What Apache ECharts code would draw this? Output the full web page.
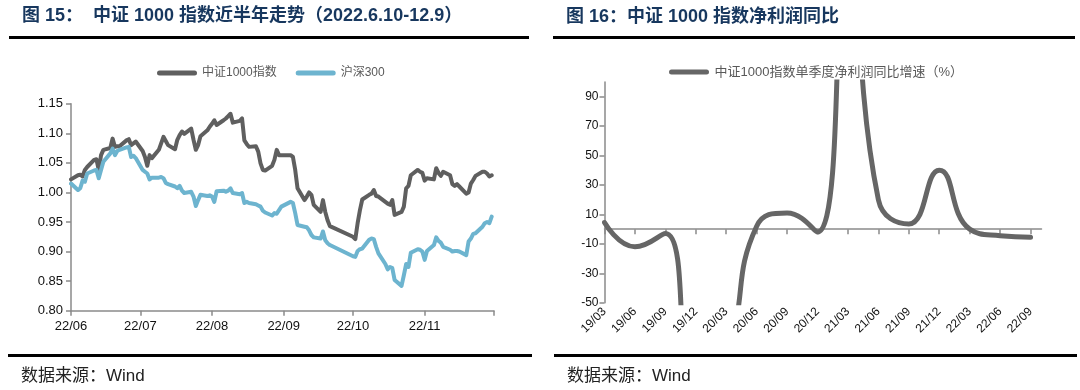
<!DOCTYPE html>
<html>
<head>
<meta charset="utf-8">
<script src="https://cdn.jsdelivr.net/npm/echarts@6.0.0/dist/echarts.min.js"></script>
<style>
html,body{margin:0;padding:0;background:#ffffff;}
#chart{width:1080px;height:390px;}
</style>
</head>
<body>
<div id="chart"></div>
<script>
// ---------- Figure 15: CSI 1000 vs CSI 300 (normalised), 2022-06-10 .. 2022-12-09 ----------
const tradeDates = [
'06-10','06-13','06-14','06-15','06-16','06-17','06-20','06-21','06-22','06-23','06-24','06-27','06-28','06-29','06-30',
'07-01','07-04','07-05','07-06','07-07','07-08','07-11','07-12','07-13','07-14','07-15','07-18','07-19','07-20','07-21','07-22','07-25','07-26','07-27','07-28','07-29',
'08-01','08-02','08-03','08-04','08-05','08-08','08-09','08-10','08-11','08-12','08-15','08-16','08-17','08-18','08-19','08-22','08-23','08-24','08-25','08-26','08-29','08-30','08-31',
'09-01','09-02','09-05','09-06','09-07','09-08','09-09','09-13','09-14','09-15','09-16','09-19','09-20','09-21','09-22','09-23','09-26','09-27','09-28','09-29','09-30',
'10-10','10-11','10-12','10-13','10-14','10-17','10-18','10-19','10-20','10-21','10-24','10-25','10-26','10-27','10-28','10-31',
'11-01','11-02','11-03','11-04','11-07','11-08','11-09','11-10','11-11','11-14','11-15','11-16','11-17','11-18','11-21','11-22','11-23','11-24','11-25','11-28','11-29','11-30',
'12-01','12-02','12-05','12-06','12-07','12-08','12-09'
];
const csi1000 = [
1.022,1.029,1.030,1.027,1.038,1.043,1.055,1.056,1.038,1.063,1.072,1.075,1.091,1.077,1.078,
1.078,1.088,1.090,1.080,1.083,1.086,1.070,1.060,1.045,1.063,1.058,1.072,1.083,1.094,1.087,1.080,1.073,1.089,1.097,1.103,1.099,
1.108,1.089,1.072,1.080,1.095,1.105,1.111,1.116,1.122,1.114,1.122,1.125,1.129,1.133,1.118,1.121,1.125,1.088,1.082,1.077,1.078,1.069,1.049,
1.038,1.037,1.045,1.055,1.072,1.063,1.063,1.063,1.060,1.038,1.007,0.987,0.993,1.000,0.996,0.979,0.967,0.987,0.967,0.953,0.943,
0.925,0.921,0.948,0.970,0.988,0.996,0.998,1.004,0.994,0.993,0.984,0.981,0.979,0.987,0.962,0.967,
0.976,1.007,1.011,1.029,1.038,1.035,1.033,1.020,1.024,1.022,1.041,1.033,1.028,1.035,1.029,1.014,1.011,1.014,1.010,0.998,1.000,1.015,
1.021,1.028,1.035,1.035,1.032,1.027,1.029
];
const hs300 = [
1.015,1.004,1.007,1.020,1.018,1.032,1.037,1.038,1.024,1.038,1.052,1.066,1.074,1.063,1.070,
1.072,1.076,1.077,1.060,1.062,1.058,1.038,1.035,1.032,1.022,1.025,1.025,1.026,1.024,1.016,1.014,1.010,1.007,1.011,1.003,0.999,
1.001,0.993,0.977,0.987,0.996,0.994,0.995,0.993,0.984,1.002,1.003,1.001,1.003,1.007,0.999,0.997,0.999,0.982,0.984,0.982,0.980,0.978,0.976,
0.969,0.966,0.961,0.965,0.964,0.970,0.976,0.984,0.982,0.965,0.945,0.942,0.941,0.936,0.928,0.924,0.922,0.934,0.919,0.914,0.911,
0.892,0.891,0.901,0.904,0.905,0.920,0.922,0.921,0.908,0.897,0.879,0.870,0.874,0.872,0.852,0.842,
0.860,0.879,0.874,0.898,0.904,0.903,0.900,0.886,0.901,0.911,0.924,0.918,0.915,0.908,0.903,0.900,0.901,0.901,0.900,0.894,0.917,0.922,
0.930,0.931,0.942,0.948,0.950,0.948,0.959
];
const monthTickLabels = ['22/06','22/07','22/08','22/09','22/10','22/11'];
const leftYTicks = [0.80,0.85,0.90,0.95,1.00,1.05,1.10,1.15];

// ---------- Figure 16: CSI 1000 quarterly net profit YoY (%) ----------
const quarters = ['19/03','19/06','19/09','19/12','20/03','20/06','20/09','20/12','21/03','21/06','21/09','21/12','22/03','22/06','22/09'];
const profitYoY = [4.5,-12,-3,-110,-85,2,11,-2,205,20,3.5,40,0,-4.5,-5.5];
const rightYTicks = [-50,-30,-10,10,30,50,70,90];

const FONT = '"Liberation Sans", Arial, "Noto Sans CJK SC", sans-serif';
const AXIS_COLOR = '#8a8a8a';
const LEGEND_ICON = 'path://M2.5,0 H37.5 A2.5,2.5 0 0 1 37.5,5 H2.5 A2.5,2.5 0 0 1 2.5,0 Z';

// calendar-day category axis (date axis like the original)
const calendarDays = [];
for (let t = Date.UTC(2022,5,10); t <= Date.UTC(2022,11,10); t += 86400000) {
  const d = new Date(t);
  calendarDays.push(String(d.getUTCMonth()+1).padStart(2,'0') + '-' + String(d.getUTCDate()).padStart(2,'0'));
}
const pos = {};
tradeDates.forEach((d,i) => { pos[d] = i; });
const onCalendar = arr => calendarDays.map(d => (d in pos ? arr[pos[d]] : null));
const isTenth = (i, v) => String(v).slice(3) === '10';
const quarterIdx = quarters.map((q,i) => i);

const chart = echarts.init(document.getElementById('chart'), null, {renderer:'canvas'});
chart.setOption({
  animation: false,
  backgroundColor: '#ffffff',
  textStyle: {fontFamily: FONT},
  grid: [
    {left: 71, top: 103.7, width: 423, height: 207},
    {left: 604.5, top: 82, width: 437, height: 220.7}
  ],
  legend: [
    {
      left: 152, top: 62, itemWidth: 40, itemHeight: 5, itemGap: 19, icon: LEGEND_ICON,
      data: ['中证1000指数','沪深300'],
      textStyle: {fontSize: 12, color: '#595959', fontFamily: FONT}
    },
    {
      left: 664, top: 60.5, itemWidth: 41, itemHeight: 5, icon: LEGEND_ICON,
      data: ['中证1000指数单季度净利润同比增速（%）'],
      textStyle: {fontSize: 13, color: '#595959', fontFamily: FONT}
    }
  ],
  xAxis: [
    {
      gridIndex: 0, type: 'category', boundaryGap: false, data: calendarDays,
      axisLine: {lineStyle: {color: AXIS_COLOR, width: 1.5}},
      axisTick: {interval: isTenth, length: 5, lineStyle: {color: AXIS_COLOR, width: 1.5}},
      axisLabel: {
        interval: isTenth, margin: 9, fontSize: 13, color: '#111',
        formatter: v => (String(v).slice(3) === '10' ? (monthTickLabels[+String(v).slice(0,2) - 6] || '') : '')
      },
      splitLine: {show: false}
    },
    {
      gridIndex: 1, type: 'value', min: 0, max: 14.36, position: 'bottom',
      axisLine: {show: false, onZero: false},
      axisTick: {show: false},
      axisLabel: {
        customValues: quarterIdx, rotate: 45, margin: 7, fontSize: 12, color: '#111',
        formatter: v => (quarters[Math.round(v)] || '')
      },
      splitLine: {show: false}
    },
    {
      gridIndex: 1, type: 'value', min: 0, max: 14.36, position: 'bottom',
      axisLine: {show: true, onZero: true, lineStyle: {color: AXIS_COLOR, width: 1.5}},
      axisTick: {show: true, customValues: quarterIdx, length: 5, lineStyle: {color: AXIS_COLOR, width: 1.5}},
      axisLabel: {show: false},
      splitLine: {show: false}
    }
  ],
  yAxis: [
    {
      gridIndex: 0, type: 'value', min: 0.8, max: 1.15,
      axisLine: {show: true, lineStyle: {color: AXIS_COLOR, width: 1.5}},
      axisTick: {show: true, customValues: leftYTicks, length: 5, lineStyle: {color: AXIS_COLOR, width: 1.5}},
      axisLabel: {customValues: leftYTicks, margin: 8, fontSize: 13, color: '#111', formatter: v => Number(v).toFixed(2)},
      splitLine: {show: false}
    },
    {
      gridIndex: 1, type: 'value', min: -50, max: 100,
      axisLine: {show: true, onZero: false, lineStyle: {color: AXIS_COLOR, width: 1.5}},
      axisTick: {show: true, customValues: rightYTicks, length: 5, lineStyle: {color: AXIS_COLOR, width: 1.5}},
      axisLabel: {customValues: rightYTicks, margin: 6, fontSize: 12, color: '#111'},
      splitLine: {show: false}
    }
  ],
  series: [
    {
      name: '中证1000指数', type: 'line', xAxisIndex: 0, yAxisIndex: 0,
      data: onCalendar(csi1000), connectNulls: true, symbol: 'none',
      lineStyle: {width: 4, color: '#5f5f5f', cap: 'round', join: 'round'},
      itemStyle: {color: '#5f5f5f'}
    },
    {
      name: '沪深300', type: 'line', xAxisIndex: 0, yAxisIndex: 0,
      data: onCalendar(hs300), connectNulls: true, symbol: 'none',
      lineStyle: {width: 4, color: '#6db4cf', cap: 'round', join: 'round'},
      itemStyle: {color: '#6db4cf'}
    },
    {
      name: '中证1000指数单季度净利润同比增速（%）', type: 'line', xAxisIndex: 1, yAxisIndex: 1,
      data: quarters.map((q,i) => [i, profitYoY[i]]), smooth: 0.5, symbol: 'none', clip: true,
      lineStyle: {width: 5, color: '#666666', cap: 'round', join: 'round'},
      itemStyle: {color: '#666666'}
    }
  ],
  graphic: [
    {type:'text', x: 22, y: 16, silent: true,
     style:{text:'图 15：  中证 1000 指数近半年走势（2022.6.10-12.9）', font:'bold 18px ' + FONT, fill:'#17375e', verticalAlign:'middle'}},
    {type:'text', x: 566, y: 17, silent: true,
     style:{text:'图 16：中证 1000 指数净利润同比', font:'bold 18px ' + FONT, fill:'#17375e', verticalAlign:'middle'}},
    {type:'rect', silent: true, shape:{x: 9, y: 36, width: 520, height: 3}, style:{fill:'#000000'}},
    {type:'rect', silent: true, shape:{x: 553, y: 36, width: 522, height: 3}, style:{fill:'#000000'}},
    {type:'rect', silent: true, shape:{x: 8, y: 354, width: 524, height: 3}, style:{fill:'#000000'}},
    {type:'rect', silent: true, shape:{x: 554, y: 354, width: 523, height: 3}, style:{fill:'#000000'}},
    {type:'text', x: 21, y: 376, silent: true,
     style:{text:'数据来源：Wind', font:'17px ' + FONT, fill:'#222222', verticalAlign:'middle'}},
    {type:'text', x: 567, y: 376, silent: true,
     style:{text:'数据来源：Wind', font:'17px ' + FONT, fill:'#222222', verticalAlign:'middle'}}
  ]
});
</script>
</body>
</html>
